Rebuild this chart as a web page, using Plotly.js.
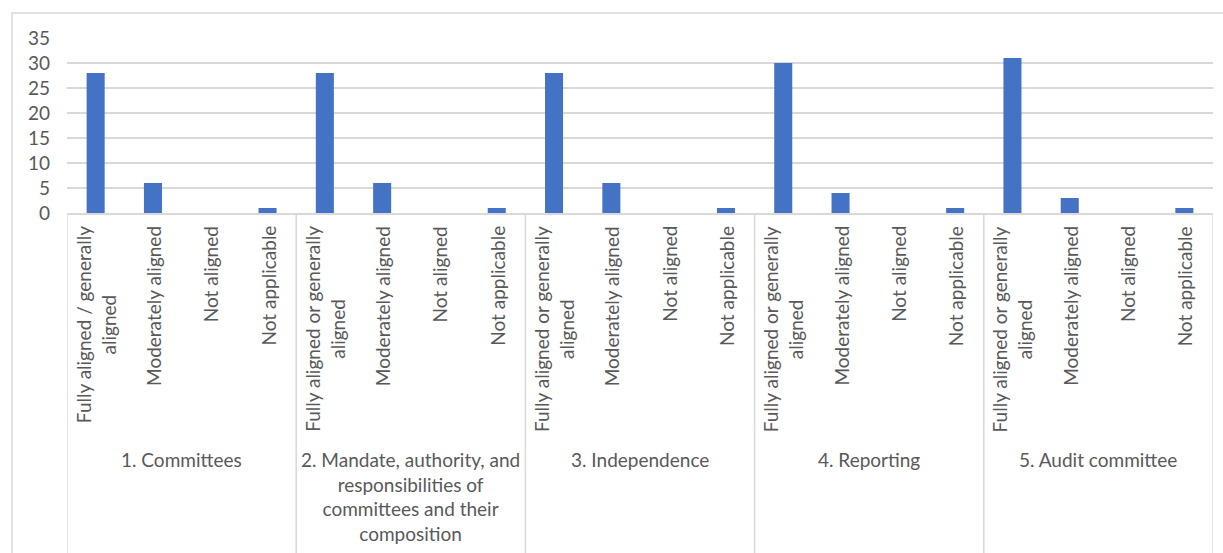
<!DOCTYPE html>
<html>
<head>
<meta charset="utf-8">
<script src="https://cdn.plot.ly/plotly-3.0.1.min.js"></script>
<style>html,body{margin:0;padding:0;background:#fff;}#chart{width:1223px;height:553px;}</style>
</head>
<body>
<div id="chart"></div>
<script>
// ---- data ----
const groups = [
  "1. Committees",
  "2. Mandate, authority, and<br>responsibilities of<br>committees and their<br>composition",
  "3. Independence",
  "4. Reporting",
  "5. Audit committee"
];
const levelsFirst = ["Fully aligned / generally<br>aligned", "Moderately aligned", "Not aligned", "Not applicable"];
const levelsOther = ["Fully aligned or generally<br>aligned", "Moderately aligned", "Not aligned", "Not applicable"];
const committeesVals   = [28, 6, 0, 1];
const mandateVals      = [28, 6, 0, 1];
const independenceVals = [28, 6, 0, 1];
const reportingVals    = [30, 4, 0, 1];
const auditVals        = [31, 3, 0, 1];
const yTicks = [0, 5, 10, 15, 20, 25, 30, 35];

// ---- build ----
const seriesByGroup = [committeesVals, mandateVals, independenceVals, reportingVals, auditVals];
const labelsByGroup = groups.map((g, i) => i === 0 ? levelsFirst : levelsOther);
const nPer = levelsFirst.length;

const xs = [], ys = [], texts = [];
seriesByGroup.forEach((vals, g) => {
  vals.forEach((v, k) => {
    xs.push(g * nPer + k);
    ys.push(v);
    texts.push(labelsByGroup[g][k].replace('<br>', ' '));
  });
});

const textColor = '#595959';
const gridColor = '#d9d9d9';
const font = 'Lato, "Open Sans", sans-serif';

// plot geometry helpers (paper units)
const plotH = 175, marginB = 340;

const annotations = [];
labelsByGroup.forEach((labs, g) => {
  labs.forEach((lab, k) => {
    annotations.push({
      x: g * nPer + k, xref: 'x',
      y: -11 / plotH, yref: 'paper',
      text: lab, textangle: -90, showarrow: false,
      xanchor: 'center', yanchor: 'top', align: 'center',
      font: {family: font, size: 19, color: textColor}
    });
  });
  annotations.push({
    x: g * nPer + (nPer - 1) / 2, xref: 'x',
    y: -233 / plotH, yref: 'paper',
    text: groups[g], showarrow: false,
    xanchor: 'center', yanchor: 'top', align: 'center',
    font: {family: font, size: 19, color: textColor}
  });
});

const shapes = [];
for (let g = 0; g <= groups.length; g++) {
  shapes.push({
    type: 'line', xref: 'x', yref: 'paper',
    x0: g * nPer - 0.5, x1: g * nPer - 0.5,
    y0: 0, y1: -(marginB + 10) / plotH,
    line: {color: gridColor, width: 1.5}
  });
}
// chart frame
shapes.push({
  type: 'rect', xref: 'paper', yref: 'paper',
  x0: -55 / 1146, x1: 1.03, y0: -(marginB + 20) / plotH, y1: 200 / plotH,
  line: {color: gridColor, width: 1.5}, fillcolor: 'rgba(0,0,0,0)'
});

const trace = {
  type: 'bar', x: xs, y: ys, text: texts, hoverinfo: 'text+y',
  textposition: 'none',
  marker: {color: '#4472C4'}
};

const layout = {
  width: 1223, height: 553,
  margin: {l: 67, r: 10, t: 38, b: marginB, pad: 0},
  paper_bgcolor: '#fff', plot_bgcolor: '#fff',
  bargap: 0.685,
  showlegend: false,
  xaxis: {
    range: [-0.5, groups.length * nPer - 0.5],
    showticklabels: false, showgrid: false, zeroline: false,
    showline: true, linecolor: gridColor, linewidth: 1.5, ticks: '', fixedrange: true
  },
  yaxis: {
    range: [0, 35], tickvals: yTicks, ticktext: yTicks.map(String),
    showgrid: true, gridcolor: gridColor, gridwidth: 1.5,
    zeroline: false, showline: false, ticks: '',
    ticklabelstandoff: 16,
    tickfont: {family: font, size: 19, color: textColor}, fixedrange: true
  },
  annotations: annotations,
  shapes: shapes
};

Plotly.newPlot('chart', [trace], layout, {displayModeBar: false, staticPlot: true});
</script>
</body>
</html>
